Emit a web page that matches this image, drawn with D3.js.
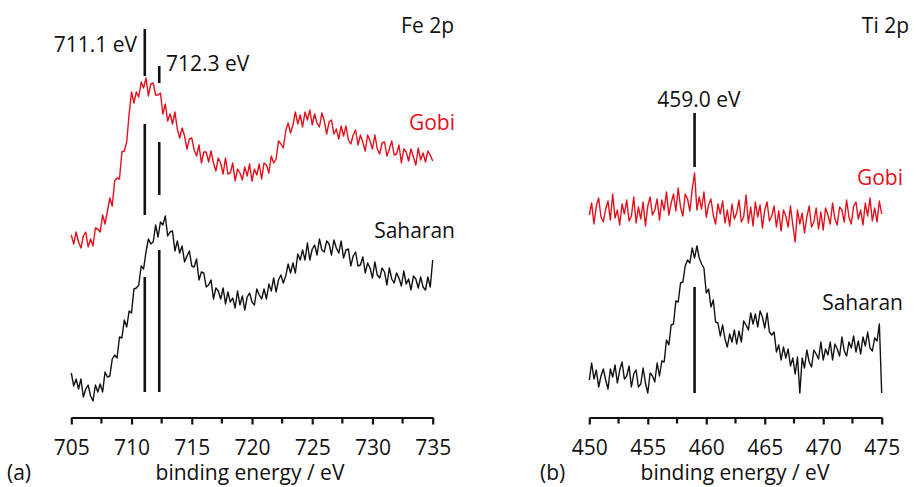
<!DOCTYPE html>
<html>
<head>
<meta charset="utf-8">
<script src="https://cdn.jsdelivr.net/npm/d3@7"></script>
<style>
  html, body { margin: 0; padding: 0; background: #fff; }
  svg { display: block; font-family: "Open Sans", "Noto Sans", sans-serif; }
</style>
</head>
<body>
<svg id="chart" width="919" height="487"></svg>
<script>
// ---------- data (intensity in arbitrary units) ----------
const feStart = 705, feStep = 0.2;
const feTicks = [705, 710, 715, 720, 725, 730, 735];
const feGobi = [185,176,188,178,172,184,188,173,181,174,
  192,191,188,205,196,209,222,214,239,242,
  241,268,269,278,306,328,317,328,323,338,
  332,342,324,336,337,325,325,327,306,316,
  299,306,296,308,291,282,292,284,271,281,
  282,270,264,275,257,268,268,258,269,257,
  249,262,257,246,262,246,247,257,239,251,
  247,240,253,244,256,239,251,245,256,241,
  257,255,247,264,257,261,279,276,272,289,
  297,287,295,308,296,305,293,308,300,310,
  295,306,297,293,307,299,286,298,300,286,
  291,281,294,284,294,280,276,285,290,275,
  285,278,269,285,279,271,285,271,266,277,
  278,264,271,279,265,266,275,257,271,268,
  259,271,263,255,272,260,267,258,269,265,259];
const feSaharan = [47,34,41,31,41,23,31,35,24,19,
  35,28,36,28,48,43,44,61,65,62,
  83,82,100,93,109,107,131,132,135,154,
  151,168,181,176,178,195,183,198,195,204,
  184,188,189,169,179,167,174,158,164,169,
  154,153,161,140,148,147,133,135,140,121,
  132,129,121,132,116,128,118,122,112,129,
  115,124,110,123,127,118,115,131,125,121,
  131,121,136,129,142,128,140,145,137,144,
  156,147,157,147,166,160,170,160,177,160,
  171,175,165,181,170,168,179,176,165,180,
  172,167,179,162,170,171,154,164,168,154,
  155,163,147,157,152,142,158,145,142,152,
  148,135,152,141,137,147,142,134,149,136,
  141,130,144,141,132,143,133,130,143,133,160];
const feMarkers = [
  { e: 711.1, segs: [[344, 391], [205, 296], [28, 143]] },
  { e: 712.3, segs: [[337, 354], [225, 278], [28, 170]] }
];

const tiStart = 450, tiStep = 0.2;
const tiTicks = [450, 455, 460, 465, 470, 475];
const tiGobi = [205,217,196,214,222,203,198,211,219,200,
  226,202,210,195,216,206,220,199,204,223,
  197,213,201,218,194,214,223,205,210,221,
  200,220,210,228,205,217,226,209,232,213,
  204,226,221,209,231,247,210,223,211,228,
  203,215,221,205,196,216,206,219,197,210,
  194,216,201,207,220,198,203,225,197,213,
  194,218,203,215,192,210,218,199,204,214,
  193,209,189,210,204,193,214,195,178,210,
  196,207,187,203,214,193,198,212,191,208,
  190,212,205,196,217,201,195,213,210,198,
  220,203,196,214,218,201,210,195,217,204,
  222,199,212,198,219,206];
const tiSaharan = [40,57,41,50,33,44,51,40,31,51,
  43,55,37,50,58,41,44,54,33,46,
  50,33,36,52,37,27,47,44,38,57,
  44,59,58,80,75,95,96,119,118,137,
  138,154,160,157,172,162,174,162,156,152,
  127,131,113,120,98,97,84,95,81,73,
  86,78,90,76,89,78,99,95,90,107,
  96,106,93,109,103,92,107,88,85,88,
  68,75,60,73,62,71,54,62,46,63,
  27,62,52,70,58,53,70,66,61,78,
  60,71,65,78,60,76,71,64,83,69,
  64,78,72,84,68,79,66,83,74,88,
  72,69,82,79,96,27];
const tiMarkers = [ { e: 459.0, segs: [[253, 307], [27, 133]] } ];

// ---------- drawing ----------
const RED = "#e3101c", BLACK = "#111";
const svg = d3.select("#chart");
const FS = 21;

function panel(cfg) {
  const x = d3.scaleLinear().domain(cfg.domain).range(cfg.range);
  const y = d3.scaleLinear().domain([0, 400]).range([420, 20]);
  const g = svg.append("g");

  const line = d3.line()
    .x((d, i) => x(cfg.start + i * cfg.step))
    .y(d => y(d));

  [[cfg.gobi, RED], [cfg.saharan, BLACK]].forEach(([vals, col]) => {
    g.append("path").datum(vals)
      .attr("fill", "none").attr("stroke", col)
      .attr("stroke-width", 1.4).attr("stroke-linejoin", "round")
      .attr("d", line);
  });

  cfg.markers.forEach(m => {
    m.segs.forEach(s => {
      g.append("line")
        .attr("x1", x(m.e)).attr("x2", x(m.e))
        .attr("y1", y(s[1])).attr("y2", y(s[0]))
        .attr("stroke", BLACK).attr("stroke-width", 2.6);
    });
  });

  // axis
  const axY = 417.5;
  const major = d3.axisBottom(x).tickValues(cfg.ticks).tickSize(7).tickSizeOuter(0)
    .tickFormat(d3.format("d"));
  const ax = g.append("g").attr("transform", `translate(0,${axY})`).call(major);
  ax.select(".domain").attr("stroke", BLACK).attr("stroke-width", 2.2);
  ax.selectAll(".tick line").attr("stroke", BLACK).attr("stroke-width", 2.2);
  ax.selectAll(".tick text")
    .attr("fill", BLACK).attr("font-size", FS)
    .attr("font-family", "'Open Sans', sans-serif")
    .attr("y", 37).attr("dy", 0);
  const minor = cfg.ticks.slice(0, -1).map(t => t + 2.5);
  g.selectAll(null).data(minor).enter().append("line")
    .attr("x1", d => x(d)).attr("x2", d => x(d))
    .attr("y1", axY).attr("y2", axY + 6)
    .attr("stroke", BLACK).attr("stroke-width", 2.2);

  g.append("text").attr("x", cfg.labelX).attr("y", 480)
    .attr("text-anchor", "middle").attr("font-size", FS).attr("fill", BLACK)
    .text("binding energy / eV");
  g.append("text").attr("x", cfg.tagX).attr("y", 480)
    .attr("font-size", FS).attr("fill", BLACK).text(cfg.tag);

  cfg.texts.forEach(t => {
    g.append("text").attr("x", t.x).attr("y", t.y)
      .attr("text-anchor", t.anchor).attr("font-size", FS)
      .attr("fill", t.color || BLACK).text(t.s);
  });
}

panel({
  domain: [705, 735], range: [71.3, 432.7], start: feStart, step: feStep,
  gobi: feGobi, saharan: feSaharan, markers: feMarkers, ticks: feTicks,
  labelX: 250, tagX: 7, tag: "(a)",
  texts: [
    { s: "Fe 2p", x: 454, y: 33, anchor: "end" },
    { s: "711.1 eV", x: 137, y: 52, anchor: "end" },
    { s: "712.3 eV", x: 166, y: 71, anchor: "start" },
    { s: "Gobi", x: 455, y: 130, anchor: "end", color: RED },
    { s: "Saharan", x: 455, y: 238, anchor: "end" }
  ]
});

panel({
  domain: [450, 475], range: [589.3, 881.7], start: tiStart, step: tiStep,
  gobi: tiGobi, saharan: tiSaharan, markers: tiMarkers, ticks: tiTicks,
  labelX: 735, tagX: 540, tag: "(b)",
  texts: [
    { s: "Ti 2p", x: 909, y: 33, anchor: "end" },
    { s: "459.0 eV", x: 699, y: 107, anchor: "middle" },
    { s: "Gobi", x: 903, y: 185, anchor: "end", color: RED },
    { s: "Saharan", x: 903, y: 310, anchor: "end" }
  ]
});
</script>
</body>
</html>
